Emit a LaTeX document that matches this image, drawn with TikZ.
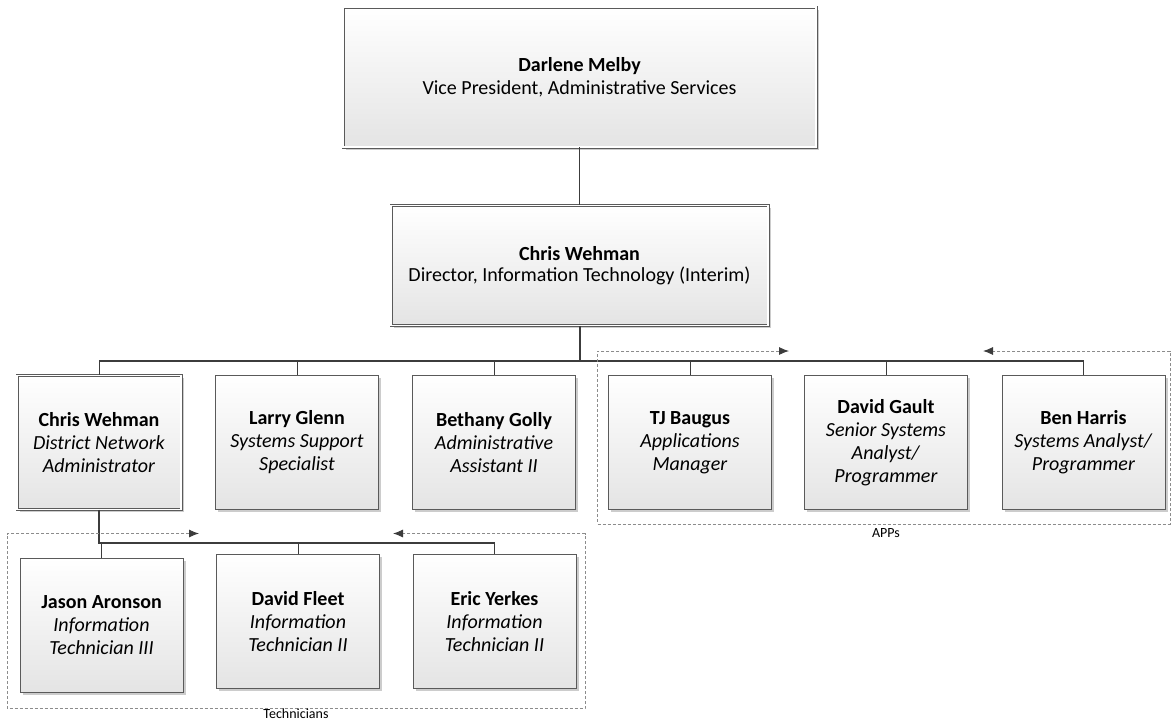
\documentclass[tikz,border=0pt]{standalone}
\usepackage{fontspec}
\setmainfont{Carlito}
\usetikzlibrary{arrows.meta,positioning,shadows}
\definecolor{edgegray}{HTML}{5A5A5A}
\definecolor{linedark}{HTML}{3C3C3C}
\definecolor{fadegray}{HTML}{E4E4E4}
\definecolor{framegray}{HTML}{8C8C8C}
\tikzset{
  card/.style={draw=edgegray,line width=0.8pt,top color=white,bottom color=fadegray,
    drop shadow={shadow xshift=2.5pt,shadow yshift=-2.5pt,fill=black,opacity=.2},
    align=center,inner sep=0pt,minimum width=163pt,minimum height=134pt},
  dbl/.style={double=white,double distance=1.6pt,line width=0.7pt},
  thinwire/.style={draw=linedark,line width=1pt},
  buswire/.style={draw=linedark,line width=2pt},
  groupframe/.style={draw=framegray,line width=0.9pt,dash pattern=on 3pt off 2pt,
    {Latex[length=10pt,width=8pt,color=linedark]}-{Latex[length=10pt,width=8pt,color=linedark]}},
  grouptag/.style={font=\fontsize{14}{16}\selectfont}
}

\begin{document}
\begin{tikzpicture}[x=1pt,y=-1pt,font=\fontsize{20}{23}\selectfont]
  \useasboundingbox (0,0) rectangle (1173,721);
  \node[card,dbl,minimum width=473pt,minimum height=140pt] (vp) at (579.5,77)
       {\textbf{Darlene Melby}\\Vice President, Administrative Services};
  \node[card,dbl,minimum width=377pt,minimum height=120pt,
        font=\fontsize{20}{21}\selectfont] (dir) at (579.5,265.5)
       {\textbf{Chris Wehman}\\Director, Information Technology (Interim)};
  \coordinate (hub) at (579.5,361);
  \node[card,dbl,minimum width=164pt] (cw) at (99,442.5)
       {\textbf{Chris Wehman}\\\textit{District Network}\\\textit{Administrator}};
  \node[card] (lg) at (297,442.5)
       {\textbf{Larry Glenn}\\\textit{Systems Support}\\\textit{Specialist}};
  \node[card] (bg) at (494,442.5)
       {\textbf{Bethany Golly}\\\textit{Administrative}\\\textit{Assistant II}};
  \node[card] (tj) at (690,442.5)
       {\textbf{TJ Baugus}\\\textit{Applications}\\\textit{Manager}};
  \node[card] (dg) at (886,442.5)
       {\textbf{David Gault}\\\textit{Senior Systems}\\\textit{Analyst/}\\\textit{Programmer}};
  \node[card] (bh) at (1083.5,442.5)
       {\textbf{Ben Harris}\\\textit{Systems Analyst/}\\\textit{Programmer}};
  \coordinate (tbus) at (99,543);
  \node[card] (ja) at (101.5,625)
       {\textbf{Jason Aronson}\\\textit{Information}\\\textit{Technician III}};
  \node[card] (df) at (298,621.5)
       {\textbf{David Fleet}\\\textit{Information}\\\textit{Technician II}};
  \node[card] (ey) at (494.5,621.5)
       {\textbf{Eric Yerkes}\\\textit{Information}\\\textit{Technician II}};
  \draw[thinwire] (vp) -- (dir);
  \draw[buswire] (dir.south) -- (hub);
  \draw[buswire] (cw.north |- hub) -- (bh.north |- hub);
  \foreach \n in {cw,lg,bg,tj,dg,bh}
    \draw[thinwire] (\n.north |- hub) -- (\n.north);
  \draw[buswire] (cw.south) -- (tbus) -- (ey.north |- tbus);
  \foreach \n in {ja,df,ey}
    \draw[thinwire] (\n.north |- tbus) -- (\n.north);
  \draw[groupframe] (789,351) -- (597.5,351) -- (597.5,524) -- (1170,524)
        -- (1170,351) -- (983,351);
  \node[grouptag] (apps) at (886,533) {APPs};
  \draw[groupframe] (199,533.5) -- (7,533.5) -- (7,708.5) -- (585,708.5)
        -- (585,533.5) -- (393,533.5);
  \node[grouptag] (techs) at (296,713.5) {Technicians};
\end{tikzpicture}
\end{document}
